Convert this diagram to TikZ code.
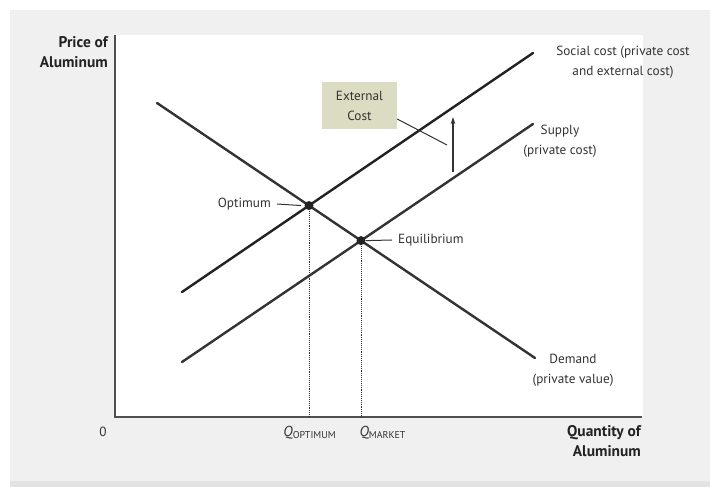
\documentclass[tikz,border=0pt]{standalone}
\usepackage{fontspec}
\setmainfont{PT Sans}
\usetikzlibrary{arrows.meta,positioning}
\definecolor{panel}{HTML}{F0F0F0}
\definecolor{edge}{HTML}{E3E3E3}
\definecolor{ink}{HTML}{333333}
\definecolor{dark}{HTML}{222222}
\definecolor{axis}{HTML}{505050}
\definecolor{tag}{HTML}{DCDCC2}
\newcommand{\qsub}[1]{{\fontsize{14.5}{15}\selectfont\itshape Q}\raisebox{-1.5bp}{\fontsize{10}{10}\selectfont #1}}

\begin{document}
\begin{tikzpicture}[x=1bp, y=-1bp, font=\fontsize{13.3}{20}\selectfont, >={Stealth[length=7bp, width=4.5bp]},
    curve/.style={line width=2.4bp, line cap=round},
    guide/.style={ink, line width=0.9bp, densely dotted},
    lead/.style={ink, line width=1bp},
    lbl/.style={ink, align=center, inner sep=0pt},
    axlbl/.style={dark, font=\fontsize{15.5}{20.5}\selectfont\bfseries, align=right, inner sep=0pt}]
    % Page, panel and plot area.
    \fill[white] (0,0) rectangle (710,487);
    \fill[panel] (10,10) rectangle (710,481);
    \fill[edge] (10,481) rectangle (710,487);
    \fill[white] (115,35) rectangle (643,417);
    % Axes.
    \coordinate (org) at (115,417);
    \coordinate (ytop) at (115,35);
    \coordinate (xend) at (642,417);
    \draw[axis, line width=1.3bp] (ytop) -- (org) -- (xend);
    \node[axlbl, anchor=east] (ylbl) at (108,52) {Price of\\Aluminum};
    \node[axlbl, anchor=east] (xlbl) at (641,441) {Quantity of\\Aluminum};
    \node[ink, inner sep=0pt] (zero) at (103,432) {0};
    % The three curves.
    \coordinate (d0) at (157,103); \coordinate (d1) at (535,358);
    \coordinate (s0) at (182,362); \coordinate (s1) at (533,124);
    \coordinate (c0) at (182,292); \coordinate (c1) at (533,53);
    \coordinate (opt) at (intersection of d0--d1 and c0--c1);
    \coordinate (eq) at (intersection of d0--d1 and s0--s1);
    \draw[ink, curve] (d0) -- (d1);
    \draw[ink, curve] (s0) -- (s1);
    \draw[dark, curve] (c0) -- (c1);
    % Quantities at the two points.
    \draw[guide] (opt) -- (opt |- org);
    \draw[guide] (eq) -- (eq |- org);
    \fill[dark] (opt) circle (4.5bp);
    \fill[dark] (eq) circle (4.5bp);
    \node[ink, inner sep=0pt] (qopt) at (309.5,433) {\qsub{OPTIMUM}};
    \node[ink, inner sep=0pt] (qmkt) at (382.5,433) {\qsub{MARKET}};
    % Curve labels.
    \node[lbl] (soclbl) at (623,62) {Social cost (private cost\\and external cost)};
    \node[lbl] (suplbl) at (560,141) {Supply\\(private cost)};
    \node[lbl] (demlbl) at (573,370) {Demand\\(private value)};
    \node[lbl, anchor=east] (optlbl) at (271,204) {Optimum};
    \node[lbl, anchor=west] (eqlbl) at (398,240) {Equilibrium};
    \draw[lead] ([xshift=6bp]optlbl.east) -- ([xshift=-8bp]opt);
    \draw[lead] ([xshift=-6bp]eqlbl.west) -- ([xshift=5bp]eq);
    % The external cost: gap between the two supply curves.
    \node[lbl, fill=tag, minimum width=75bp, minimum height=47bp] (extbox) at (359.5,106) {External\\Cost};
    \coordinate (tip) at (447,145);
    \draw[lead] ([yshift=-13bp]extbox.east) -- (tip);
    \coordinate (gap0) at (453,172);
    \coordinate (gap1) at (453,117);
    \draw[ink, line width=1.1bp, ->] (gap0) -- (gap1);
\end{tikzpicture}
\end{document}
